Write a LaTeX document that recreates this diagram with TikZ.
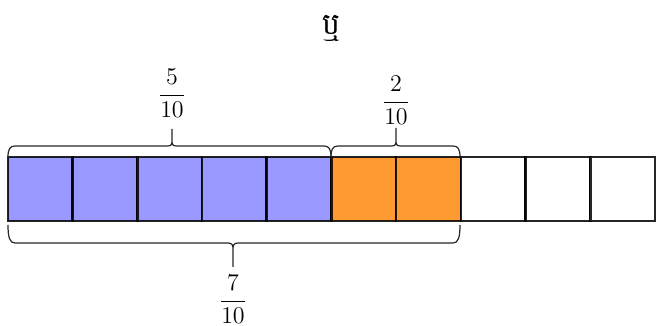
\documentclass[tikz,border=0pt]{standalone}
\usepackage{fontspec}
\newfontfamily\khmerfont[Script=Khmer]{Battambang}
\tikzset{
  cell/.style={draw=black, draw opacity=0.85, line width=1.3pt, minimum width=32.35pt, minimum height=32pt, inner sep=0pt, outer sep=0pt},
  bluecell/.style={cell, fill={rgb,255:red,153;green,153;blue,255}},
  orangecell/.style={cell, fill={rgb,255:red,255;green,154;blue,51}},
  whitecell/.style={cell, fill=white},
  bracepath/.style={draw=black!85, line width=0.6pt},
  fraclabel/.style={anchor=base, inner sep=0pt, font=\fontsize{12.5}{15}\selectfont},
}
\begin{document}
\begin{tikzpicture}[x=0.5pt, y=-0.5pt]
\useasboundingbox (0,0) rectangle (661,326);
\node[inner sep=0pt, font=\khmerfont\fontsize{15}{18}\selectfont] (title) at (331,28) {ឬ};
\foreach \i in {0,...,9} {
  \pgfmathsetmacro{\cx}{8+64.7*\i+32.35}
  \ifnum\i<5
    \node[bluecell] (c\i) at (\cx,189) {};
  \else\ifnum\i<7
    \node[orangecell] (c\i) at (\cx,189) {};
  \else
    \node[whitecell] (c\i) at (\cx,189) {};
  \fi\fi
}
% top brace over blue
\draw[bracepath] (8,157) .. controls (8,149) and (10,146) .. (15,146) -- (167,146) .. controls (171,146) and (172,145) .. (172,141) -- (172,129) -- (172,141) .. controls (172,145) and (173,146) .. (177,146) -- (324,146) .. controls (329,146) and (331,149) .. (331,157);
% top brace over orange
\draw[bracepath] (331,157) .. controls (331,149) and (333,146) .. (338,146) -- (391,146) .. controls (395,146) and (396,145) .. (396,141) -- (396,128) -- (396,141) .. controls (396,145) and (397,146) .. (401,146) -- (453,146) .. controls (458,146) and (460,149) .. (460,157);
% bottom brace
\draw[bracepath] (8,225) .. controls (8,238) and (10,243) .. (15,243) -- (228,243) .. controls (232,243) and (233,245) .. (233,249) -- (233,267) -- (233,249) .. controls (233,245) and (234,243) .. (238,243) -- (453,243) .. controls (458,243) and (460,238) .. (460,225);
\node[fraclabel] (f5) at (172,101) {$\displaystyle\frac{5}{10}$};
\node[fraclabel] (f2) at (396,108) {$\displaystyle\frac{2}{10}$};
\node[fraclabel] (f7) at (233,307) {$\displaystyle\frac{7}{10}$};
\end{tikzpicture}
\end{document}
